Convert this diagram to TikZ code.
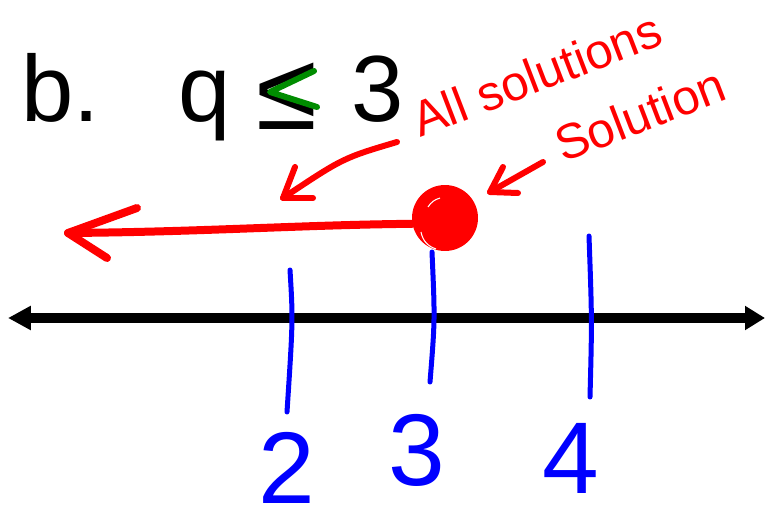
\documentclass[tikz,border=0pt]{standalone}
\usepackage{fontspec}
\setmainfont{Liberation Sans}
\usetikzlibrary{arrows.meta}
\definecolor{penred}{RGB}{255,0,0}
\definecolor{penblue}{RGB}{0,0,255}
\definecolor{pengreen}{RGB}{0,140,0}

\begin{document}
\begin{tikzpicture}[
        x=0.02cm, y=-0.02cm,
        bigtext/.style={anchor=base west, inner sep=0pt, font=\fontsize{53.5}{60}\selectfont},
        note/.style={anchor=base west, inner sep=0pt, rotate=21, text=penred, font=\fontsize{28}{32}\selectfont},
        digit/.style={inner sep=0pt, text=penblue, font=\fontsize{58}{66}\selectfont},
        pen/.style={line width=0.12cm, line cap=round, line join=round},
        redpen/.style={pen, penred},
        tickline/.style={pen, penblue, line width=0.1cm},
        axis/.style={line width=0.2cm, {Triangle[length=0.46cm, width=0.46cm]}-{Triangle[length=0.4cm, width=0.46cm]}}
    ]

    \useasboundingbox (0,0) rectangle (765,517);

    % Problem line
    \node[bigtext] (label) at (21,122) {b.};
    \node[bigtext] (var) at (178,122) {q};
    \node[bigtext, font=\fontsize{63}{70}\selectfont] (rel) at (256,130) {≤};
    \node[bigtext] (bound) at (351,122) {3};
    \draw[pen, pengreen] (314,71) -- (270,92) -- (317,107); % teacher's mark on the sign

    % Number line
    \coordinate (axleft) at (8,318);
    \coordinate (axright) at (765,318);
    \draw[axis] (axleft) -- (axright);

    % Tick marks and their numbers
    \draw[tickline] (290,270) .. controls (293,320) .. (287,412);
    \draw[tickline] (432,252) .. controls (435,320) .. (430,382);
    \draw[tickline] (589,236) .. controls (592,320) .. (590,397);

    \node[digit] (two) at (287,468) {2};
    \node[digit] (three) at (417,450) {3};
    \node[digit] (four) at (571,458) {4};

    % Solution set
    \node[circle, fill=penred, minimum size=1.32cm, inner sep=0pt] (dot) at (445,218) {};
    \draw[white, line width=0.6pt] (421,232) to[bend right=30] (436,249);
    \draw[white, line width=0.6pt] (428,207) to[bend left=20] (440,198);
    \coordinate (lefttip) at (68,233);
    \draw[redpen, line width=0.16cm] (dot.190) .. controls (300,225) and (200,232) .. (lefttip);
    \draw[redpen, line width=0.16cm] (137,208) -- (lefttip) -- (107,258);

    % Annotations
    \node[note] (allsol) at (420,138) {All solutions};
    \node[note] (sol) at (563,163) {Solution};
    \coordinate (allfrom) at (397,142);
    \coordinate (alltip) at (283,198);
    \draw[redpen] (allfrom) .. controls (343,158) .. (alltip);
    \draw[redpen] (295,167) -- (alltip) -- (313,198);
    \coordinate (solfrom) at (543,162);
    \coordinate (soltip) at (490,192);
    \draw[redpen] (solfrom) -- (soltip);
    \draw[redpen] (503,167) -- (soltip) -- (518,193);

\end{tikzpicture}
\end{document}
